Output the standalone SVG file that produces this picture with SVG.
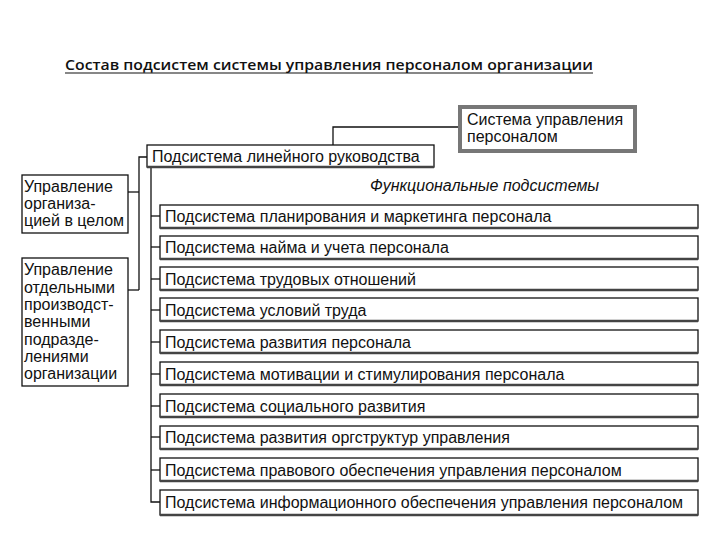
<svg xmlns="http://www.w3.org/2000/svg" width="720" height="540" viewBox="0 0 720 540">
<style>
text{font-family:"Liberation Sans",Arial,sans-serif;font-size:16px;fill:#111}
.box{fill:#fff;stroke:#111;stroke-width:1.3}
.sh{stroke:#444;stroke-width:2.5}
.ln{stroke:#111;stroke-width:1.3;fill:none}
.title{font-family:"Open Sans","Liberation Sans",sans-serif;font-size:14px;font-weight:600}
.it{font-style:italic}
</style>
<rect width="720" height="540" fill="#fff"/>
<text class="title" x="65" y="70" textLength="528" lengthAdjust="spacingAndGlyphs">Состав  подсистем  системы  управления  персоналом организации</text>
<line x1="65" y1="73" x2="593" y2="73" stroke="#111" stroke-width="1.2"/>

<g id="connectors">
<polyline class="ln" points="459,127 333,127 333,145"/>
<polyline class="ln" points="147,157 139,157 139,290"/>
<line class="ln" x1="128" y1="192" x2="139" y2="192"/>
<line class="ln" x1="128" y1="290" x2="139" y2="290"/>
<polyline class="ln" points="151,168 151,502 160,502"/>
<line class="ln" x1="151" y1="216" x2="160" y2="216"/>
<line class="ln" x1="151" y1="247" x2="160" y2="247"/>
<line class="ln" x1="151" y1="279" x2="160" y2="279"/>
<line class="ln" x1="151" y1="310" x2="160" y2="310"/>
<line class="ln" x1="151" y1="342" x2="160" y2="342"/>
<line class="ln" x1="151" y1="374" x2="160" y2="374"/>
<line class="ln" x1="151" y1="406" x2="160" y2="406"/>
<line class="ln" x1="151" y1="437" x2="160" y2="437"/>
<line class="ln" x1="151" y1="470" x2="160" y2="470"/>
</g>

<g id="system">
<rect x="460" y="107" width="175" height="44" fill="#fff" stroke="#777" stroke-width="4"/>
<text x="467" y="125">Система управления</text>
<text x="467" y="142">персоналом</text>
</g>

<g id="linear">
<rect class="box" x="147" y="145" width="287" height="22"/>
<line class="sh" x1="147" y1="167" x2="434" y2="167"/>
<text x="152" y="162">Подсистема линейного руководства</text>
</g>

<g id="left1">
<rect class="box" x="22" y="175" width="106" height="58"/>
<text x="24" y="192">Управление</text>
<text x="24" y="209">организа-</text>
<text x="24" y="226">цией в целом</text>
</g>

<g id="left2">
<rect class="box" x="22" y="258" width="106" height="128"/>
<text x="24" y="275">Управление</text>
<text x="24" y="293">отдельными</text>
<text x="24" y="310">производст-</text>
<text x="24" y="327">венными</text>
<text x="24" y="345">подразде-</text>
<text x="24" y="362">лениями</text>
<text x="24" y="379">организации</text>
</g>

<g id="func-label">
<text class="it" x="370" y="191">Функциональные подсистемы</text>
</g>

<g id="f1"><rect class="box" x="160" y="205" width="538" height="23"/><line class="sh" x1="160" y1="228" x2="698" y2="228"/><text x="165" y="222">Подсистема планирования и маркетинга персонала</text></g>
<g id="f2"><rect class="box" x="160" y="236" width="538" height="23"/><line class="sh" x1="160" y1="259" x2="698" y2="259"/><text x="165" y="253">Подсистема найма и учета персонала</text></g>
<g id="f3"><rect class="box" x="160" y="267" width="538" height="23"/><line class="sh" x1="160" y1="290" x2="698" y2="290"/><text x="165" y="285">Подсистема трудовых отношений</text></g>
<g id="f4"><rect class="box" x="160" y="298" width="538" height="23"/><line class="sh" x1="160" y1="321" x2="698" y2="321"/><text x="165" y="316">Подсистема условий труда</text></g>
<g id="f5"><rect class="box" x="160" y="330" width="538" height="23"/><line class="sh" x1="160" y1="353" x2="698" y2="353"/><text x="165" y="348">Подсистема развития персонала</text></g>
<g id="f6"><rect class="box" x="160" y="362" width="538" height="23"/><line class="sh" x1="160" y1="385" x2="698" y2="385"/><text x="165" y="380">Подсистема мотивации и стимулирования персонала</text></g>
<g id="f7"><rect class="box" x="160" y="394" width="538" height="23"/><line class="sh" x1="160" y1="417" x2="698" y2="417"/><text x="165" y="412">Подсистема социального развития</text></g>
<g id="f8"><rect class="box" x="160" y="426" width="538" height="23"/><line class="sh" x1="160" y1="449" x2="698" y2="449"/><text x="165" y="443">Подсистема развития оргструктур управления</text></g>
<g id="f9"><rect class="box" x="160" y="458" width="538" height="23"/><line class="sh" x1="160" y1="481" x2="698" y2="481"/><text x="165" y="476">Подсистема правового обеспечения управления персоналом</text></g>
<g id="f10"><rect class="box" x="160" y="490" width="538" height="25"/><line class="sh" x1="160" y1="515" x2="698" y2="515"/><text x="165" y="508">Подсистема информационного обеспечения управления персоналом</text></g>
</svg>
